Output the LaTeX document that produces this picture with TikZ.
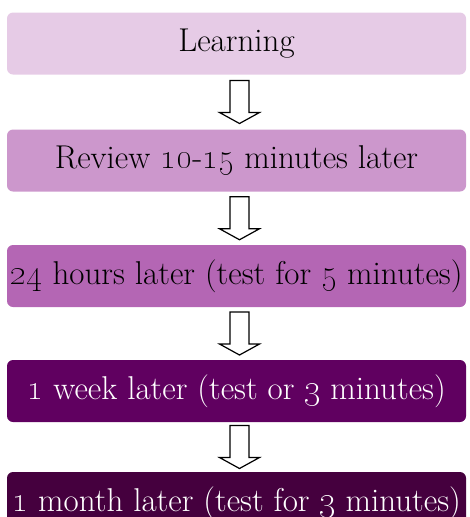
\documentclass[tikz,border=0pt]{standalone}
\usetikzlibrary{calc}
\definecolor{c1}{HTML}{E6CBE6}
\definecolor{c2}{HTML}{CC97CC}
\definecolor{c3}{HTML}{B466B4}
\definecolor{c4}{HTML}{600060}
\definecolor{c5}{HTML}{45003E}
\newcommand{\osn}[1]{\oldstylenums{#1}}
\newcommand{\blockarrowat}[1]{%
  \draw[blockarrow, shift={(#1)}] (-9.5,-21.5) -- (9.5,-21.5) -- (9.5,10.5) -- (20,10.5)
    -- (0,21.5) -- (-20,10.5) -- (-9.5,10.5) -- cycle;}
\begin{document}
\begin{tikzpicture}[x=1pt,y=-1pt,
  stagebox/.style={rounded corners=6pt, minimum width=459pt, minimum height=62pt,
    inner sep=0pt, font=\fontsize{33}{38}\selectfont},
  blockarrow/.style={draw=black, fill=white, line width=1.2pt, line join=miter}]
\clip (0,0) rectangle (469,517);
\node[stagebox, fill=c1, text=black] (s1) at (236.5,43.5) {Learning};
\node[stagebox, fill=c2, text=black] (s2) at (236.5,160.5) {Review \osn{10}-\osn{15} minutes later};
\node[stagebox, fill=c3, text=black] (s3) at (236.5,276) {\osn{24} hours later (test for \osn{5} minutes)};
\node[stagebox, fill=c4, text=white] (s4) at (236.5,391) {\osn{1} week later (test or \osn{3} minutes)};
\node[stagebox, fill=c5, text=white] (s5) at (236.5,503) {\osn{1} month later (test for \osn{3} minutes)};
\coordinate (a1) at ($(s1.south)!0.5!(s2.north)+(3,0)$);
\coordinate (a2) at ($(s2.south)!0.5!(s3.north)+(3,0)$);
\coordinate (a3) at ($(s3.south)!0.5!(s4.north)+(3,0)$);
\coordinate (a4) at ($(s4.south)!0.5!(s5.north)+(3,0)$);
\blockarrowat{a1}
\blockarrowat{a2}
\blockarrowat{a3}
\blockarrowat{a4}
\end{tikzpicture}
\end{document}
